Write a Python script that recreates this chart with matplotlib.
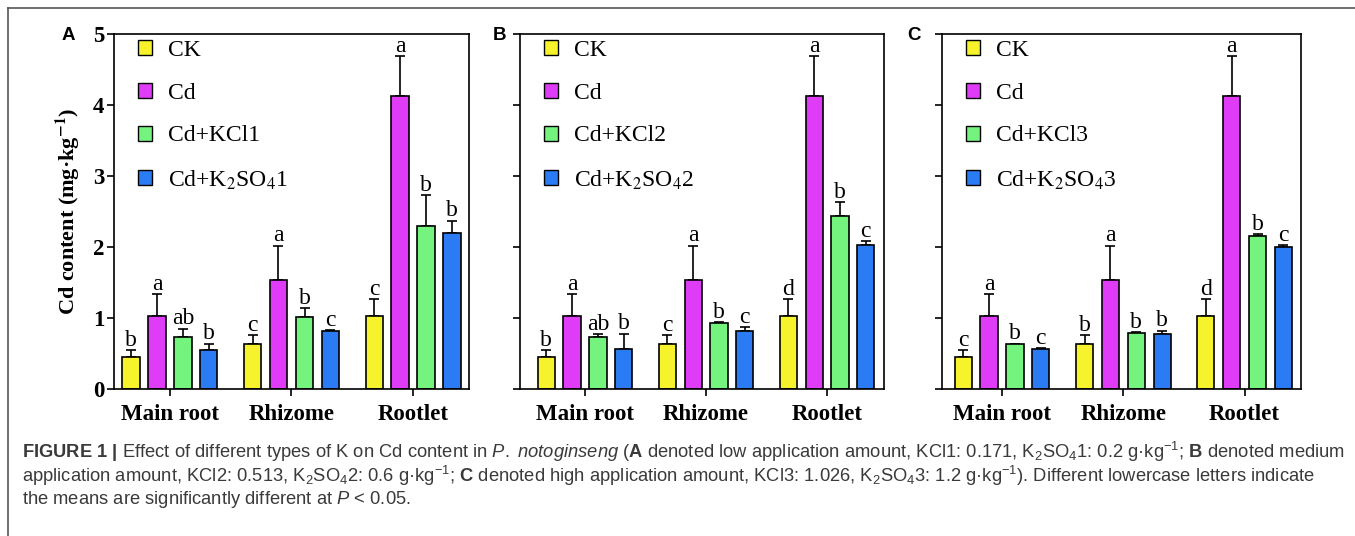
import matplotlib
matplotlib.use('Agg')
import matplotlib.pyplot as plt
from matplotlib import font_manager
import numpy as np

# organs on the x axis
organs = ['Main root', 'Rhizome', 'Rootlet']
panels = ['A', 'B', 'C']
colors = ['#F6F32C', '#DE3CF6', '#74F37F', '#2A7BF4']

# legend labels per panel
labels_A = ['CK', 'Cd', 'Cd+KCl1', 'Cd+K$_2$SO$_4$1']
labels_B = ['CK', 'Cd', 'Cd+KCl2', 'Cd+K$_2$SO$_4$2']
labels_C = ['CK', 'Cd', 'Cd+KCl3', 'Cd+K$_2$SO$_4$3']

# means (mg/kg)
ck_mean = [0.455, 0.64, 1.03]
ck_sd = [0.095, 0.12, 0.24]
cd_mean = [1.03, 1.535, 4.12]
cd_sd = [0.31, 0.485, 0.57]

kcl_mean_A = [0.73, 1.01, 2.295]
kcl_sd_A = [0.12, 0.13, 0.435]
k2so4_mean_A = [0.55, 0.81, 2.2]
k2so4_sd_A = [0.09, 0.02, 0.17]

kcl_mean_B = [0.73, 0.925, 2.44]
kcl_sd_B = [0.04, 0.015, 0.19]
k2so4_mean_B = [0.57, 0.81, 2.03]
k2so4_sd_B = [0.21, 0.06, 0.05]

kcl_mean_C = [0.63, 0.79, 2.155]
kcl_sd_C = [0.01, 0.01, 0.025]
k2so4_mean_C = [0.57, 0.775, 2.0]
k2so4_sd_C = [0.005, 0.045, 0.03]

# significance letters
letters_A = [['b', 'c', 'c'], ['a', 'a', 'a'], ['ab', 'b', 'b'], ['b', 'c', 'b']]
letters_B = [['b', 'c', 'd'], ['a', 'a', 'a'], ['ab', 'b', 'b'], ['b', 'c', 'c']]
letters_C = [['c', 'b', 'd'], ['a', 'a', 'a'], ['b', 'b', 'b'], ['c', 'b', 'c']]

yticks = [0, 1, 2, 3, 4, 5]

# caption font: narrow sans if we have it
installed = {f.name for f in font_manager.fontManager.ttflist}
if 'Liberation Sans Narrow' in installed:
    cap_font, cap_size = 'Liberation Sans Narrow', 15.5
else:
    cap_font, cap_size = 'Liberation Sans', 13.2

plt.rcParams['font.family'] = ['Liberation Serif', 'DejaVu Serif']
plt.rcParams['mathtext.fontset'] = 'custom'
plt.rcParams['mathtext.rm'] = cap_font
plt.rcParams['mathtext.bf'] = cap_font + ':bold'
plt.rcParams['mathtext.it'] = cap_font + ':italic'

W, H = 1355, 536
fig = plt.figure(figsize=(W / 100, H / 100), dpi=100)

# axes boxes in pixels: left, right, xlim, panel letter x
boxes = [(114, 469, (-0.46, 2.46), 62),
         (520, 884, (-0.537, 2.47), 493),
         (942, 1301, (-0.495, 2.465), 907)]
top_px, bot_px = 34, 389

data = [
    ([ck_mean, cd_mean, kcl_mean_A, k2so4_mean_A], [ck_sd, cd_sd, kcl_sd_A, k2so4_sd_A], letters_A, labels_A),
    ([ck_mean, cd_mean, kcl_mean_B, k2so4_mean_B], [ck_sd, cd_sd, kcl_sd_B, k2so4_sd_B], letters_B, labels_B),
    ([ck_mean, cd_mean, kcl_mean_C, k2so4_mean_C], [ck_sd, cd_sd, kcl_sd_C, k2so4_sd_C], letters_C, labels_C),
]

x = np.arange(len(organs))
offsets = [-0.32, -0.107, 0.107, 0.32]
bw = 0.142

for i, (l, r, xl, px) in enumerate(boxes):
    ax = fig.add_axes([l / W, 1 - bot_px / H, (r - l) / W, (bot_px - top_px) / H])
    means, sds, lets, labs = data[i]
    handles = []
    for j in range(4):
        xs = x + offsets[j]
        b = ax.bar(xs, means[j], width=bw, color=colors[j], edgecolor='black',
                   linewidth=1.2, zorder=2, label=labs[j])
        handles.append(b)
        ax.errorbar(xs, means[j], yerr=[np.zeros(3), sds[j]], fmt='none',
                    ecolor='black', elinewidth=1.2, capsize=3.5, capthick=1.2, zorder=1)
        for k in range(3):
            ax.annotate(lets[j][k], (xs[k], means[j][k] + sds[j][k]),
                        xytext=(0, -0.5), textcoords='offset points',
                        ha='center', va='bottom', fontsize=17)
    ax.set_xlim(*xl)
    ax.set_ylim(0, 5)
    ax.set_yticks(yticks)
    ax.set_xticks(x)
    ax.set_xticklabels(organs, fontsize=16.5, fontweight='bold')
    if i == 0:
        ax.set_yticklabels([str(t) for t in yticks], fontsize=16.5, fontweight='bold')
        ax.set_ylabel('Cd content (mg·kg$^{\\mathbf{-1}}$)', fontsize=16,
                      fontweight='bold', math_fontfamily='stix', labelpad=8)
    else:
        ax.set_yticklabels([])
    for s in ax.spines.values():
        s.set_linewidth(1.2)
    ax.tick_params(axis='both', direction='out', length=5, width=1.2, pad=2)
    ax.tick_params(axis='x', pad=6)
    leg = ax.legend(handles=handles, loc='upper left', bbox_to_anchor=(24 / (r - l), 0.983),
                    frameon=False, fontsize=17, handlelength=0.6, handleheight=0.6,
                    handletextpad=0.68, labelspacing=0.92, borderaxespad=0, borderpad=0)
    for t in leg.get_texts():
        t.set_math_fontfamily('stix')
    for h in leg.legend_handles:
        h.set_linewidth(1.0)
    fig.text(px / W, 1 - 36 / H, panels[i], fontsize=13.5, fontweight='bold',
             family='Liberation Sans', ha='left', va='center')

# frame lines
fig.add_artist(plt.Line2D([8 / W, 1], [1 - 8 / H, 1 - 8 / H], color='#555555', lw=1.2))
fig.add_artist(plt.Line2D([8 / W, 8 / W], [0, 1 - 8 / H], color='#555555', lw=1.2))

cap1 = (r'$\mathbf{FIGURE\ 1\ |}$ Effect of different types of K on Cd content in '
        r'$\mathit{P.\ notoginseng}$ ($\mathbf{A}$ denoted low application amount, KCl1: 0.171, '
        r'K$_2$SO$_4$1: 0.2 g·kg$^{-1}$; $\mathbf{B}$ denoted medium')
cap2 = (r'application amount, KCl2: 0.513, K$_2$SO$_4$2: 0.6 g·kg$^{-1}$; $\mathbf{C}$ denoted high '
        r'application amount, KCl3: 1.026, K$_2$SO$_4$3: 1.2 g·kg$^{-1}$). Different lowercase letters indicate')
cap3 = r'the means are significantly different at $\mathit{P}$ < 0.05.'
for n, c in enumerate([cap1, cap2, cap3]):
    fig.text(22 / W, 1 - (452 + 24 * n) / H, c, fontsize=cap_size, family=cap_font,
             color='#3a3a3a', ha='left', va='center')

fig.savefig('out.png', dpi=100)
